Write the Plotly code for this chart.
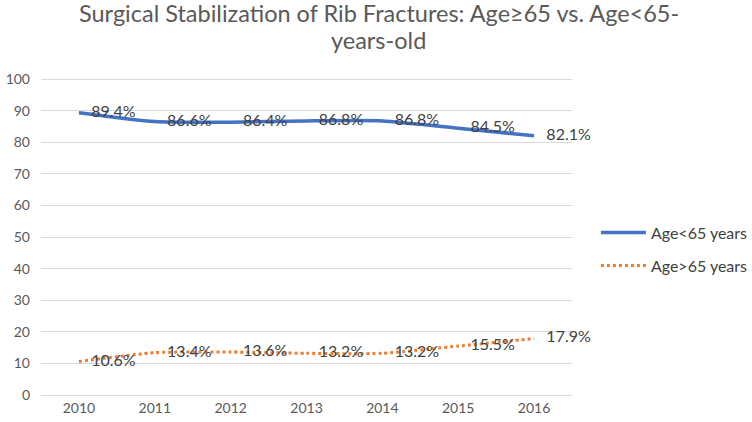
import plotly.graph_objects as go

years = ["2010", "2011", "2012", "2013", "2014", "2015", "2016"]
under65 = [89.4, 86.6, 86.4, 86.8, 86.8, 84.5, 82.1]
over65 = [10.6, 13.4, 13.6, 13.2, 13.2, 15.5, 17.9]
under65_labels = ["89.4%", "86.6%", "86.4%", "86.8%", "86.8%", "84.5%", "82.1%"]
over65_labels = ["10.6%", "13.4%", "13.6%", "13.2%", "13.2%", "15.5%", "17.9%"]
y_ticks = [0, 10, 20, 30, 40, 50, 60, 70, 80, 90, 100]
title_lines = ["Surgical Stabilization of Rib Fractures: Age≥65 vs. Age<65-", "years-old"]

FONT = "Lato, Open Sans, sans-serif"
PAD = "\u00a0\u00a0\u00a0"

fig = go.Figure()
fig.add_trace(go.Scatter(
    x=years, y=under65, name="Age<65 years", mode="lines+text",
    line=dict(color="#4472C4", width=3.5, shape="spline", smoothing=0.6),
    text=[PAD + t for t in under65_labels], textposition="middle right",
    textfont=dict(family=FONT, size=16, color="#404040"),
    legendgroup="a", cliponaxis=False,
))
fig.add_trace(go.Scatter(
    x=years, y=over65, name="Age>65 years", mode="lines+text",
    line=dict(color="#ED7D31", width=3, dash="dot", shape="spline", smoothing=0.6),
    text=[PAD + t for t in over65_labels], textposition="middle right",
    textfont=dict(family=FONT, size=16, color="#404040"),
    legendgroup="b", cliponaxis=False,
))

for line, ypx in zip(title_lines, [13, 40]):
    fig.add_annotation(
        text=line, xref="paper", yref="paper", x=0.6365, xanchor="center",
        y=(395 - ypx) / 317, yanchor="middle", showarrow=False,
        font=dict(family=FONT, size=23.5, color="#595959"),
    )

fig.update_layout(
    width=752, height=422,
    paper_bgcolor="white", plot_bgcolor="white",
    margin=dict(l=41, r=180, t=78, b=27, autoexpand=False),
    xaxis=dict(
        type="category", range=[-0.5, 6.5], showgrid=False,
        showline=True, linecolor="#D9D9D9", linewidth=1, automargin=False,
        ticks="", tickfont=dict(family=FONT, size=14, color="#595959"),
    ),
    yaxis=dict(
        range=[0, 100.4], tickvals=y_ticks, showgrid=True, gridcolor="#D9D9D9",
        gridwidth=1, zeroline=False, showline=False, ticks="", automargin=False,
        ticklabelstandoff=10,
        tickfont=dict(family=FONT, size=14, color="#595959"),
    ),
    legend=dict(
        x=1.045, xanchor="left", y=0.46, yanchor="middle",
        font=dict(family=FONT, size=16, color="#404040"),
        tracegroupgap=9, itemwidth=45, bgcolor="rgba(0,0,0,0)",
    ),
    showlegend=True,
)

fig.write_html("out.html", config={"displayModeBar": False},
               post_script="document.body.style.margin='0';")
